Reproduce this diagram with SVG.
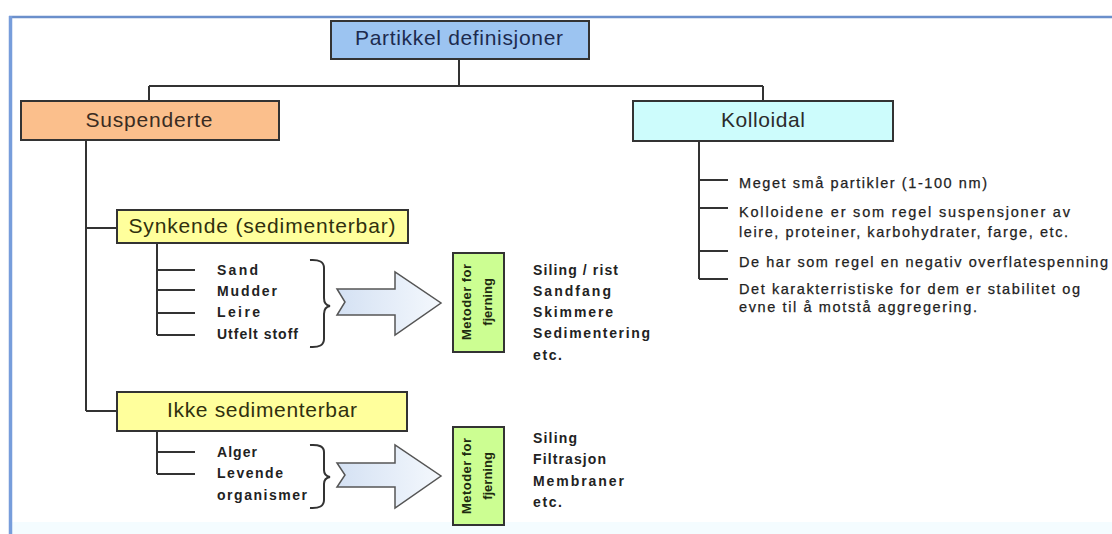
<svg xmlns="http://www.w3.org/2000/svg" width="1112" height="534" viewBox="0 0 1112 534">
  <style>
    .box { stroke: #333; stroke-width: 2; }
    .lbl { font-family: "Liberation Sans", Arial, sans-serif; font-size: 21px; fill: #2b2b2b; }
    .wire { fill: none; stroke: #333; stroke-width: 2; }
    .item { font-family: "Liberation Sans", Arial, sans-serif; font-size: 14px; font-weight: bold; fill: #222; }
    .note { font-family: "Liberation Sans", Arial, sans-serif; font-size: 14.5px; fill: #222; stroke: #222; stroke-width: 0.25; }
    .vert { font-family: "Liberation Sans", Arial, sans-serif; font-size: 13px; font-weight: bold; fill: #1e2a10; }
    .brace { fill: none; stroke: #333; stroke-width: 2; }
    .arrow { fill: url(#arrowFill); stroke: #555; stroke-width: 1.5; stroke-linejoin: miter; }
  </style>
  <defs>
    <linearGradient id="arrowFill" x1="0" y1="0" x2="1" y2="0">
      <stop offset="0" stop-color="#d4e1f3"/>
      <stop offset="1" stop-color="#f4f8fd"/>
    </linearGradient>
  </defs>

  <!-- page -->
  <rect x="0" y="0" width="1112" height="534" fill="#ffffff"/>
  <rect x="12" y="522" width="1100" height="12" fill="#f4fcff"/>
  <line x1="9" y1="17" x2="1112" y2="17" stroke="#6b8fcb" stroke-width="2.5"/>
  <line x1="10.5" y1="16" x2="10.5" y2="534" stroke="#779ddb" stroke-width="3.5"/>

  <!-- connectors -->
  <g id="connectors">
    <path class="wire" d="M459,59 V86 M149,86 H763 M149,86 V101 M763,86 V101"/>
    <path class="wire" d="M86,140 V411 M86,228 H117 M86,411 H117"/>
    <path class="wire" d="M157,243 V335 M157,270 H195 M157,290 H195 M157,313 H195 M157,335 H195"/>
    <path class="wire" d="M157,431 V474 M157,452 H195 M157,474 H195"/>
    <path class="wire" d="M699,141 V279 M699,180 H728 M699,208 H728 M699,251 H728 M699,279 H728"/>
  </g>

  <!-- root -->
  <g id="node-partikkel">
    <rect class="box" x="331" y="21" width="258" height="38" fill="#9cc4f1"/>
    <text class="lbl" x="459" y="45" text-anchor="middle" textLength="208" lengthAdjust="spacing" style="fill:#1d2b4f">Partikkel definisjoner</text>
  </g>

  <g id="node-suspenderte">
    <rect class="box" x="21" y="101" width="258" height="39" fill="#fbbf8c"/>
    <text class="lbl" x="149" y="127" text-anchor="middle" textLength="127" lengthAdjust="spacing" style="fill:#3a2c22">Suspenderte</text>
  </g>

  <g id="node-kolloidal">
    <rect class="box" x="633" y="101" width="260" height="40" fill="#cdfcfc"/>
    <text class="lbl" x="763" y="127" text-anchor="middle" textLength="84" lengthAdjust="spacing">Kolloidal</text>
  </g>

  <g id="node-kolloidal-notes">
    <text class="note" x="739" y="188" textLength="248" lengthAdjust="spacing">Meget små partikler (1-100 nm)</text>
    <text class="note" x="739" y="217" textLength="331" lengthAdjust="spacing">Kolloidene er som regel suspensjoner av</text>
    <text class="note" x="739" y="237" textLength="329" lengthAdjust="spacing">leire, proteiner, karbohydrater, farge, etc.</text>
    <text class="note" x="739" y="267" textLength="369" lengthAdjust="spacing">De har som regel en negativ overflatespenning</text>
    <text class="note" x="739" y="294" textLength="341" lengthAdjust="spacing">Det karakterristiske for dem er stabilitet og</text>
    <text class="note" x="739" y="312" textLength="238" lengthAdjust="spacing">evne til å motstå aggregering.</text>
  </g>

  <g id="node-synkende">
    <rect class="box" x="117" y="210" width="291" height="33" fill="#ffff9c"/>
    <text class="lbl" x="262" y="233" text-anchor="middle" textLength="267" lengthAdjust="spacing" style="fill:#30300e">Synkende (sedimenterbar)</text>
  </g>

  <g id="node-synkende-items">
    <text class="item" x="217" y="275" textLength="41" lengthAdjust="spacing">Sand</text>
    <text class="item" x="217" y="296" textLength="60" lengthAdjust="spacing">Mudder</text>
    <text class="item" x="217" y="317" textLength="43" lengthAdjust="spacing">Leire</text>
    <text class="item" x="217" y="339" textLength="81" lengthAdjust="spacing">Utfelt stoff</text>
    <path class="brace" d="M310,260 Q324,259 324,268 L324,298 Q324,305 330,306 Q324,307 324,314 L324,339 Q324,348 310,347"/>
    <polygon class="arrow" points="337,289 395,289 395,272 441,303 395,335 395,315 337,315 345,302"/>
  </g>

  <g id="node-metoder-1">
    <rect class="box" x="453" y="253" width="51" height="99" fill="#ccfe92"/>
    <g transform="translate(478,302) rotate(-90)">
      <text class="vert" x="0" y="-7" text-anchor="middle" textLength="76" lengthAdjust="spacing">Metoder for</text>
      <text class="vert" x="0" y="14" text-anchor="middle">fjerning</text>
    </g>
  </g>

  <g id="node-metoder-1-list">
    <text class="item" x="533" y="275" textLength="85" lengthAdjust="spacing">Siling / rist</text>
    <text class="item" x="533" y="296" textLength="78" lengthAdjust="spacing">Sandfang</text>
    <text class="item" x="533" y="317" textLength="80" lengthAdjust="spacing">Skimmere</text>
    <text class="item" x="533" y="338" textLength="117" lengthAdjust="spacing">Sedimentering</text>
    <text class="item" x="533" y="360" textLength="29" lengthAdjust="spacing">etc.</text>
  </g>

  <g id="node-ikke">
    <rect class="box" x="117" y="392" width="290" height="39" fill="#ffff9c"/>
    <text class="lbl" x="262" y="417" text-anchor="middle" textLength="190" lengthAdjust="spacing" style="fill:#30300e">Ikke sedimenterbar</text>
  </g>

  <g id="node-ikke-items">
    <text class="item" x="217" y="457" textLength="40" lengthAdjust="spacing">Alger</text>
    <text class="item" x="217" y="478" textLength="66" lengthAdjust="spacing">Levende</text>
    <text class="item" x="217" y="500" textLength="90" lengthAdjust="spacing">organismer</text>
    <path class="brace" d="M310,445 Q324,444 324,452 L324,470 Q324,476 330,477 Q324,478 324,484 L324,500 Q324,509 310,508"/>
    <polygon class="arrow" points="337,463 395,463 395,445 441,476 395,508 395,487 337,487 345,475"/>
  </g>

  <g id="node-metoder-2">
    <rect class="box" x="453" y="427" width="51" height="98" fill="#ccfe92"/>
    <g transform="translate(478,476) rotate(-90)">
      <text class="vert" x="0" y="-7" text-anchor="middle" textLength="76" lengthAdjust="spacing">Metoder for</text>
      <text class="vert" x="0" y="14" text-anchor="middle">fjerning</text>
    </g>
  </g>

  <g id="node-metoder-2-list">
    <text class="item" x="533" y="443" textLength="44" lengthAdjust="spacing">Siling</text>
    <text class="item" x="533" y="464" textLength="73" lengthAdjust="spacing">Filtrasjon</text>
    <text class="item" x="533" y="486" textLength="91" lengthAdjust="spacing">Membraner</text>
    <text class="item" x="533" y="507" textLength="29" lengthAdjust="spacing">etc.</text>
  </g>
</svg>
